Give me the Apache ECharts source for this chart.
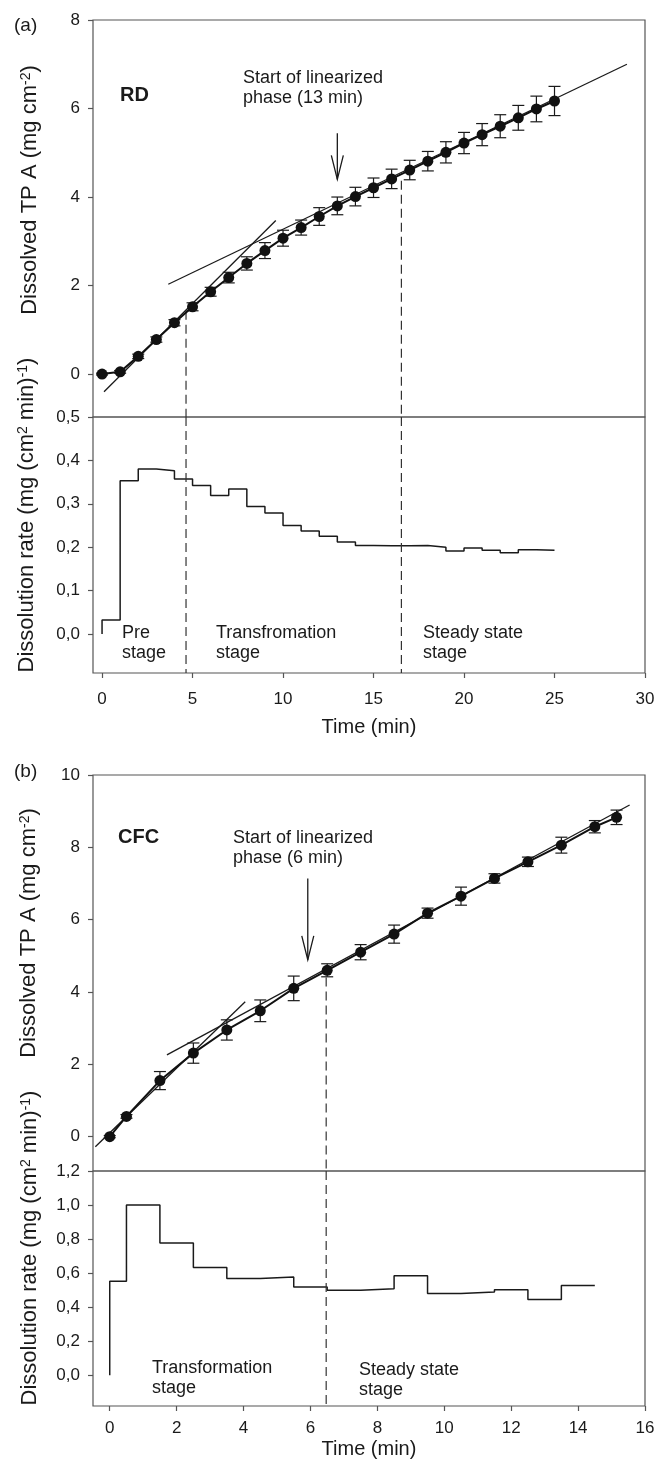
<!DOCTYPE html>
<html>
<head>
<meta charset="utf-8">
<script src="https://cdn.jsdelivr.net/npm/echarts@6.0.0/dist/echarts.min.js"></script>
<style>
html, body { margin: 0; padding: 0; background: #fff; }
#chart { width: 658px; height: 1470px; }
</style>
</head>
<body>
<div id="chart"></div>
<script>
// ---- panel (a) RD ----
var timeA = [0, 1, 2, 3, 4, 5, 6, 7, 8, 9, 10, 11, 12, 13, 14, 15, 16, 17, 18, 19, 20, 21, 22, 23, 24, 25];
var dissolvedA = [0, 0.05, 0.40, 0.78, 1.16, 1.52, 1.86, 2.18, 2.50, 2.79, 3.07, 3.31, 3.56, 3.80, 4.01, 4.21, 4.41, 4.61, 4.81, 5.01, 5.22, 5.41, 5.60, 5.79, 5.99, 6.17];
var errA = [0.02, 0.03, 0.05, 0.06, 0.07, 0.09, 0.10, 0.12, 0.15, 0.18, 0.18, 0.17, 0.20, 0.20, 0.21, 0.22, 0.22, 0.22, 0.22, 0.24, 0.24, 0.25, 0.26, 0.28, 0.29, 0.33];
var fitEarlyA = [[0.11, -0.40], [9.6, 3.47]];
var fitLinearA = [[3.66, 2.03], [29.0, 7.0]];
var rateStartA = [0, 1, 2, 3, 4, 5, 6, 7, 8, 9, 10, 11, 12, 13, 14, 15, 16, 17, 18, 19, 20, 21, 22, 23, 24];
var rateA = [0.032, 0.353, 0.380, 0.376, 0.357, 0.342, 0.319, 0.334, 0.294, 0.279, 0.250, 0.237, 0.225, 0.212, 0.204, 0.203, 0.203, 0.204, 0.200, 0.191, 0.198, 0.193, 0.187, 0.194, 0.193];
var rateEndA = 25;
var stageLinesA = [[4.64, 1.43], [16.54, 4.37]];   // [time, top of dashed line]
var arrowA = [[13, 5.44, 4.40]];                     // [time, from, to]

// ---- panel (b) CFC ----
var timeB = [0, 0.5, 1.5, 2.5, 3.5, 4.5, 5.5, 6.5, 7.5, 8.5, 9.5, 10.5, 11.5, 12.5, 13.5, 14.5, 15.15];
var dissolvedB = [0, 0.56, 1.55, 2.31, 2.95, 3.48, 4.10, 4.60, 5.10, 5.60, 6.18, 6.65, 7.14, 7.60, 8.06, 8.57, 8.83];
var errB = [0.03, 0.05, 0.25, 0.28, 0.28, 0.30, 0.34, 0.18, 0.21, 0.25, 0.14, 0.25, 0.13, 0.13, 0.22, 0.17, 0.20];
var fitEarlyB = [[-0.43, -0.28], [4.05, 3.73]];
var fitLinearB = [[1.71, 2.26], [15.54, 9.17]];
var rateStartB = [0, 0.5, 1.5, 2.5, 3.5, 4.5, 5.5, 6.5, 7.5, 8.5, 9.5, 10.5, 11.5, 12.5, 13.5];
var rateB = [0.552, 1.0, 0.777, 0.634, 0.568, 0.578, 0.519, 0.500, 0.508, 0.585, 0.480, 0.490, 0.502, 0.445, 0.527];
var rateEndB = 14.5;
var stageLinesB = [[6.47, 4.40]];
var arrowB = [[5.92, 7.14, 4.89]];

// axis ranges / ticks
var xTicksA = [0, 5, 10, 15, 20, 25, 30];
var xTicksB = [0, 2, 4, 6, 8, 10, 12, 14, 16];
var yTicksTopA = [0, 2, 4, 6, 8];
var yTicksRateA = [0, 0.1, 0.2, 0.3, 0.4, 0.5];
var yTicksTopB = [0, 2, 4, 6, 8, 10];
var yTicksRateB = [0, 0.2, 0.4, 0.6, 0.8, 1.0, 1.2];
var rangeA = { xmin: -0.5, xmax: 30, ymin: -0.97, ymax: 8, rmin: -0.09, rmax: 0.5 };
var rangeB = { xmin: -0.5, xmax: 16, ymin: -0.95, ymax: 10, rmin: -0.18, rmax: 1.2 };

var FONT = '"Liberation Sans", Arial, sans-serif';
var INK = '#1a1a1a';
var FRAME = '#555';

function zip(xs, ys, es) {
	return xs.map(function (x, i) { return es ? [x, ys[i], es[i]] : [x, ys[i]]; });
}
function stepData(starts, vals, end) {
	var d = [[starts[0], 0]];
	starts.forEach(function (s, i) { d.push([s, vals[i]]); });
	d.push([end, vals[vals.length - 1]]);
	return d;
}
function comma(v) { return v.toFixed(1).replace('.', ','); }

function errorBars(params, api) {
	var x = api.value(0), y = api.value(1), e = api.value(2);
	var t = api.coord([x, y + e]), b = api.coord([x, y - e]);
	var w = 6;
	var st = { stroke: INK, lineWidth: 1.2 };
	return { type: 'group', children: [
		{ type: 'line', shape: { x1: t[0], y1: t[1], x2: b[0], y2: b[1] }, style: st },
		{ type: 'line', shape: { x1: t[0] - w, y1: t[1], x2: t[0] + w, y2: t[1] }, style: st },
		{ type: 'line', shape: { x1: b[0] - w, y1: b[1], x2: b[0] + w, y2: b[1] }, style: st }
	] };
}
function arrow(params, api) {
	var x = api.value(0);
	var a = api.coord([x, api.value(1)]), b = api.coord([x, api.value(2)]);
	var st = { stroke: INK, lineWidth: 1.3, fill: 'none' };
	return { type: 'group', children: [
		{ type: 'line', shape: { x1: a[0], y1: a[1], x2: b[0], y2: b[1] }, style: st },
		{ type: 'polyline', shape: { points: [[b[0] - 6, b[1] - 24], [b[0], b[1]], [b[0] + 6, b[1] - 24]] }, style: st }
	] };
}

function grid(top, height) {
	return { left: 93, top: top, width: 552, height: height, show: true, borderColor: FRAME, borderWidth: 1.2, containLabel: false };
}
function xAxis(gi, r, ticks, shown, margin, gap) {
	return {
		type: 'value', gridIndex: gi, min: r.xmin, max: r.xmax, position: 'bottom',
		axisLine: { show: false, onZero: false },
		axisTick: { show: shown, length: 5, customValues: ticks, lineStyle: { color: FRAME, width: 1.2 } },
		axisLabel: { show: shown, customValues: ticks, margin: margin, fontSize: 17, fontFamily: FONT, color: INK },
		splitLine: { show: false },
		name: shown ? 'Time (min)' : '', nameLocation: 'middle', nameGap: gap,
		nameTextStyle: { fontSize: 20, fontFamily: FONT, color: INK }
	};
}
function yAxis(gi, min, max, ticks, fmt) {
	return {
		type: 'value', gridIndex: gi, min: min, max: max, position: 'left',
		axisLine: { show: false, onZero: false },
		axisTick: { show: true, length: 5, customValues: ticks, lineStyle: { color: FRAME, width: 1.2 } },
		axisLabel: { customValues: ticks, margin: 13, fontSize: 17, fontFamily: FONT, color: INK, formatter: fmt },
		splitLine: { show: false }
	};
}

function lineSeries(xi, data, extra) {
	var s = { type: 'line', xAxisIndex: xi, yAxisIndex: xi, data: data, symbol: 'none',
		lineStyle: { color: INK, width: 1.3 }, silent: true, z: 2 };
	for (var k in extra) s[k] = extra[k];
	return s;
}
function dashed(xi, x, y0, y1) {
	return lineSeries(xi, [[x, y0], [x, y1]], { lineStyle: { color: '#333', width: 1.2, type: [9, 5] } });
}

function panelSeries(g, time, vals, errs, fitE, fitL, rStart, rVals, rEnd, stages, arw, r) {
	var top = g, bot = g + 1;
	var s = [
		lineSeries(top, fitE),
		lineSeries(top, fitL),
		{ type: 'custom', xAxisIndex: top, yAxisIndex: top, data: zip(time, vals, errs), renderItem: errorBars, z: 3, silent: true },
		lineSeries(top, zip(time, vals), { symbol: 'circle', symbolSize: 11, itemStyle: { color: '#111' }, lineStyle: { color: '#111', width: 2 }, z: 5 }),
		{ type: 'custom', xAxisIndex: top, yAxisIndex: top, data: arw, renderItem: arrow, z: 4, silent: true },
		lineSeries(bot, stepData(rStart, rVals, rEnd), { step: 'end', lineStyle: { color: INK, width: 1.5 } })
	];
	stages.forEach(function (st) {
		s.push(dashed(top, st[0], st[1], r.ymin));
		s.push(dashed(bot, st[0], r.rmax, r.rmin));
	});
	return s;
}

function txt(x, y, text, opt) {
	var st = { text: text, x: x, y: y, fill: INK, font: (opt && opt.font) || ('18px ' + FONT),
		align: (opt && opt.align) || 'left', verticalAlign: 'middle', lineHeight: (opt && opt.lh) || 20 };
	return { type: 'text', style: st, silent: true };
}
function yTitle(x, y, text, rich) {
	return { type: 'text', x: x, y: y, rotation: Math.PI / 2, silent: true,
		style: { text: text, rich: rich, align: 'center', verticalAlign: 'middle', fill: INK, font: '22px ' + FONT } };
}
var richT = {
	a: { fontSize: 22, fontFamily: FONT, fill: INK },
	s: { fontSize: 14, fontFamily: FONT, fill: INK, verticalAlign: 'top' }
};
var titleTop = '{a|Dissolved TP A (mg cm}{s|-2}{a|)}';
var titleRate = '{a|Dissolution rate (mg (cm}{s|2}{a| min)}{s|-1}{a|)}';

var option = {
	animation: false,
	backgroundColor: '#fff',
	grid: [grid(20, 397), grid(417, 256), grid(775, 396), grid(1171, 235)],
	xAxis: [
		xAxis(0, rangeA, xTicksA, false),
		xAxis(1, rangeA, xTicksA, true, 18, 44),
		xAxis(2, rangeB, xTicksB, false),
		xAxis(3, rangeB, xTicksB, true, 14, 33)
	],
	yAxis: [
		yAxis(0, rangeA.ymin, rangeA.ymax, yTicksTopA),
		yAxis(1, rangeA.rmin, rangeA.rmax, yTicksRateA, comma),
		yAxis(2, rangeB.ymin, rangeB.ymax, yTicksTopB),
		yAxis(3, rangeB.rmin, rangeB.rmax, yTicksRateB, comma)
	],
	series: [].concat(
		panelSeries(0, timeA, dissolvedA, errA, fitEarlyA, fitLinearA, rateStartA, rateA, rateEndA, stageLinesA, arrowA, rangeA),
		panelSeries(2, timeB, dissolvedB, errB, fitEarlyB, fitLinearB, rateStartB, rateB, rateEndB, stageLinesB, arrowB, rangeB)
	),
	graphic: [
		txt(14, 26, '(a)', { font: '19px ' + FONT }),
		txt(120, 95, 'RD', { font: 'bold 20px ' + FONT }),
		txt(243, 88, 'Start of linearized\nphase (13 min)'),
		txt(122, 643, 'Pre\nstage'),
		txt(216, 643, 'Transfromation\nstage'),
		txt(423, 643, 'Steady state\nstage'),
		yTitle(30, 190, titleTop, richT),
		yTitle(27, 515, titleRate, richT),
		txt(14, 772, '(b)', { font: '19px ' + FONT }),
		txt(118, 837, 'CFC', { font: 'bold 20px ' + FONT }),
		txt(233, 848, 'Start of linearized\nphase (6 min)'),
		txt(152, 1378, 'Transformation\nstage'),
		txt(359, 1380, 'Steady state\nstage'),
		yTitle(29, 933, titleTop, richT),
		yTitle(30, 1248, titleRate, richT)
	]
};

var chart = echarts.init(document.getElementById('chart'), null, { renderer: 'canvas' });
chart.setOption(option);
</script>
</body>
</html>
